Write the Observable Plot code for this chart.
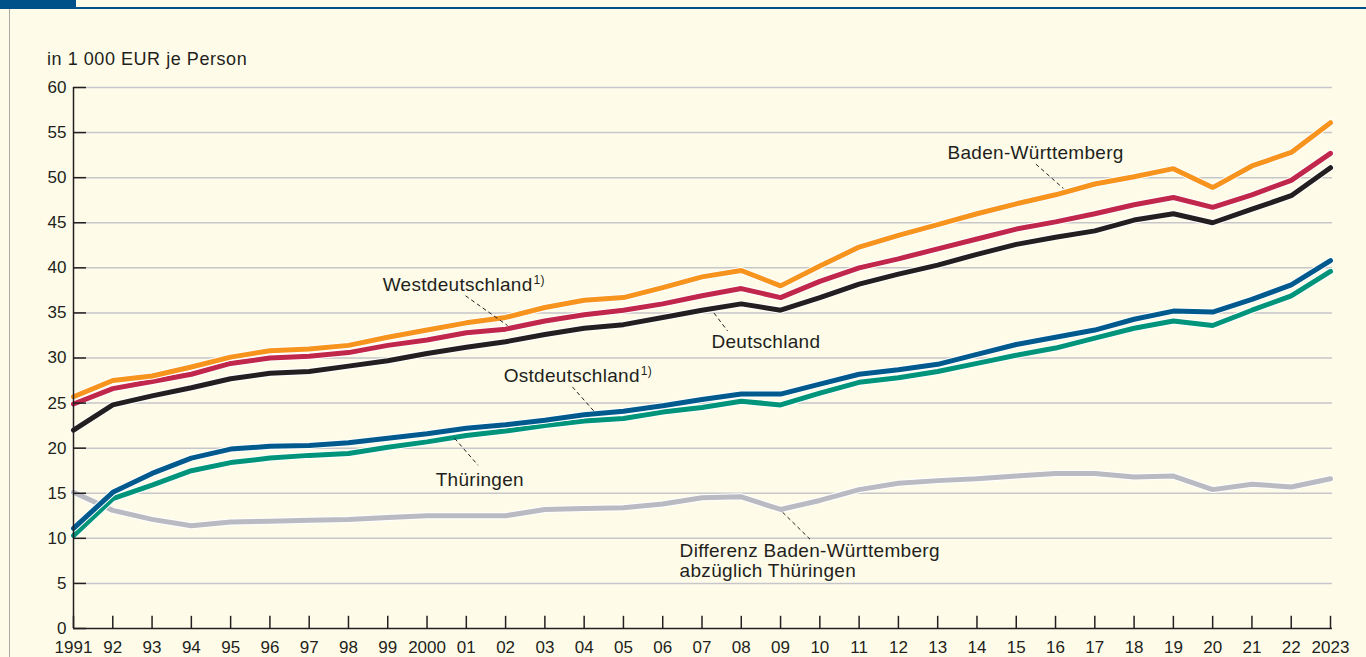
<!DOCTYPE html>
<html>
<head>
<meta charset="utf-8">
<script src="https://cdn.jsdelivr.net/npm/d3@7"></script>
<script src="https://cdn.jsdelivr.net/npm/@observablehq/plot@0.6"></script>
<style>
  html, body { margin: 0; padding: 0; background: #fefce8; }
  #wrap { position: relative; width: 1366px; height: 657px; overflow: hidden; background: #fefce8; font-family: "Liberation Sans", Arial, sans-serif; color: #231f20; }
  #topblock { position: absolute; left: 0; top: 0; width: 76px; height: 8px; background: #00508a; }
  #topline { position: absolute; left: 0; top: 7px; width: 1366px; height: 2px; background: #00508a; }
  #leftline { position: absolute; left: 9px; top: 9px; width: 1px; height: 648px; background: #a8a8a8; }
  #unit { position: absolute; left: 47px; top: 49px; font-size: 18px; letter-spacing: 0.55px; }
  #chart { position: absolute; left: 0; top: 0; }
</style>
</head>
<body>
<div id="wrap">
  <div id="topblock"></div>
  <div id="topline"></div>
  <div id="leftline"></div>
  <div id="chart"></div>
  <div id="unit">in 1 000 EUR je Person</div>
</div>
<script>
const years = [1991,1992,1993,1994,1995,1996,1997,1998,1999,2000,2001,2002,2003,2004,2005,2006,2007,2008,2009,2010,2011,2012,2013,2014,2015,2016,2017,2018,2019,2020,2021,2022,2023];
const yearLabels = ["1991","92","93","94","95","96","97","98","99","2000","01","02","03","04","05","06","07","08","09","10","11","12","13","14","15","16","17","18","19","20","21","22","2023"];
const yTicks = [0,5,10,15,20,25,30,35,40,45,50,55,60];

const badenWuerttemberg = [25.7,27.5,28.0,29.0,30.1,30.8,31.0,31.4,32.3,33.1,33.9,34.5,35.6,36.4,36.7,37.8,39.0,39.7,38.0,40.2,42.3,43.6,44.8,46.0,47.1,48.1,49.3,50.1,51.0,48.9,51.3,52.8,56.1];
const westdeutschland = [24.9,26.6,27.4,28.2,29.4,30.0,30.2,30.6,31.4,32.0,32.8,33.2,34.1,34.8,35.3,36.0,36.9,37.7,36.7,38.5,40.0,41.0,42.1,43.2,44.3,45.1,46.0,47.0,47.8,46.7,48.1,49.7,52.7];
const deutschland = [22.0,24.8,25.8,26.7,27.7,28.3,28.5,29.1,29.7,30.5,31.2,31.8,32.6,33.3,33.7,34.5,35.3,36.0,35.3,36.7,38.2,39.3,40.3,41.5,42.6,43.4,44.1,45.3,46.0,45.0,46.5,48.0,51.1];
const ostdeutschland = [11.1,15.1,17.2,18.9,19.9,20.2,20.3,20.6,21.1,21.6,22.2,22.6,23.1,23.7,24.1,24.7,25.4,26.0,26.0,27.1,28.2,28.7,29.3,30.4,31.5,32.3,33.1,34.3,35.2,35.1,36.5,38.1,40.8];
const thueringen = [10.3,14.4,15.9,17.5,18.4,18.9,19.2,19.4,20.1,20.7,21.4,21.9,22.5,23.0,23.3,24.0,24.5,25.2,24.8,26.1,27.3,27.8,28.5,29.4,30.3,31.1,32.2,33.3,34.1,33.6,35.3,36.9,39.6];
const differenz = [15.1,13.1,12.1,11.4,11.8,11.9,12.0,12.1,12.3,12.5,12.5,12.5,13.2,13.3,13.4,13.8,14.5,14.6,13.2,14.2,15.4,16.1,16.4,16.6,16.9,17.2,17.2,16.8,16.9,15.4,16.0,15.7,16.6];

const seriesNames = ["Differenz", "Thüringen", "Ostdeutschland", "Deutschland", "Westdeutschland", "Baden-Württemberg"];
const seriesValues = [differenz, thueringen, ostdeutschland, deutschland, westdeutschland, badenWuerttemberg];
const seriesColors = ["#b9bac2", "#00947b", "#005a8e", "#231f20", "#c1264b", "#f7941d"];

// annotation labels (text anchored at start, at data coordinates)
const labelTexts = ["Baden-Württemberg", "Westdeutschland", "Deutschland", "Ostdeutschland", "Thüringen", "Differenz Baden-Württemberg\nabzüglich Thüringen"];
const labelX = [2013.25, 1998.87, 2007.24, 2001.95, 2000.22, 2006.43];
const labelY = [52.75, 38.2, 31.85, 28.0, 16.5, 7.55];
// footnote superscripts, placed right after the label text
const supTexts = ["1)", "1)"];
const supOf = [1, 3];
// dashed leader lines
const leaderX1 = [2015.5, 2000.98, 2007.2, 2003.7, 2000.7, 2009.05];
const leaderY1 = [51.5, 36.9, 35.6, 26.8, 21.1, 12.9];
const leaderX2 = [2016.2, 2002.05, 2007.65, 2004.25, 2001.3, 2009.75];
const leaderY2 = [48.8, 33.6, 33.0, 24.1, 18.1, 9.9];

const rows = [];
seriesNames.forEach((name, s) => {
  years.forEach((year, i) => rows.push({series: name, year, value: seriesValues[s][i]}));
});
const labels = labelTexts.map((t, i) => ({t, x: labelX[i], y: labelY[i]}));
const leaders = leaderX1.map((x1, i) => ({x1, y1: leaderY1[i], x2: leaderX2[i], y2: leaderY2[i]}));
const labelOf = new Map(years.map((y, i) => [y, yearLabels[i]]));

const lineMarks = [];
seriesNames.forEach((name, s) => {
  const data = rows.filter(d => d.series === name);
  lineMarks.push(Plot.line(data, {x: "year", y: "value", stroke: "#ffffff", strokeWidth: 7, strokeLinejoin: "miter"}));
  lineMarks.push(Plot.line(data, {x: "year", y: "value", stroke: seriesColors[s], strokeWidth: 5, strokeLinejoin: "miter"}));
});

const chart = Plot.plot({
  width: 1366,
  height: 657,
  marginLeft: 73,
  marginRight: 36,
  marginTop: 87,
  marginBottom: 29,
  style: {background: "transparent", fontFamily: "'Liberation Sans', Arial, sans-serif", color: "#231f20"},
  x: {domain: [1991, 2023]},
  y: {domain: [0, 60]},
  marks: [
    Plot.ruleY(yTicks.filter(d => d > 0), {y: d => d, x1: 1991, x2: 2023.05, stroke: "#c6c6cb", strokeWidth: 1.5}),
    ...lineMarks,
    Plot.link(leaders, {x1: "x1", y1: "y1", x2: "x2", y2: "y2", stroke: "#231f20", strokeWidth: 1, strokeDasharray: "4,3"}),
    Plot.text(labels, {x: "x", y: "y", text: "t", textAnchor: "start", fontSize: 19, fill: "#231f20", lineHeight: 1.06, className: "lbl"}),
    Plot.ruleY(yTicks, {y: d => d, x1: 1991, x2: 1991.33, stroke: "#231f20", strokeWidth: 1.5}),
    Plot.ruleX(years, {x: d => d, y1: 0, y2: 1.35, stroke: "#231f20", strokeWidth: 1.5}),
    Plot.ruleX([1991], {y1: 0, y2: 60, stroke: "#231f20", strokeWidth: 1.5}),
    Plot.ruleY([0], {x1: 1991, x2: 2023.05, stroke: "#231f20", strokeWidth: 1.5}),
    Plot.axisY({ticks: yTicks, tickSize: 0, tickPadding: 7, fontSize: 17, label: null, tickFormat: d => String(d)}),
    Plot.axisX({ticks: years, tickSize: 0, tickPadding: 12, fontSize: 17, label: null, tickFormat: d => labelOf.get(d)})
  ]
});
document.getElementById("chart").appendChild(chart);

// add superscript footnote markers as tspans right after the relevant labels
const lblTexts = chart.querySelectorAll("g.lbl text, .lbl text");
lblTexts.forEach((el, i) => {
  el.style.letterSpacing = "0.3px";
  const k = supOf.indexOf(i);
  if (k >= 0) {
    const ts = document.createElementNS("http://www.w3.org/2000/svg", "tspan");
    ts.textContent = supTexts[k];
    ts.setAttribute("font-size", "12");
    ts.setAttribute("dy", "-7");
    ts.setAttribute("dx", "1");
    el.appendChild(ts);
  }
});
</script>
</body>
</html>
